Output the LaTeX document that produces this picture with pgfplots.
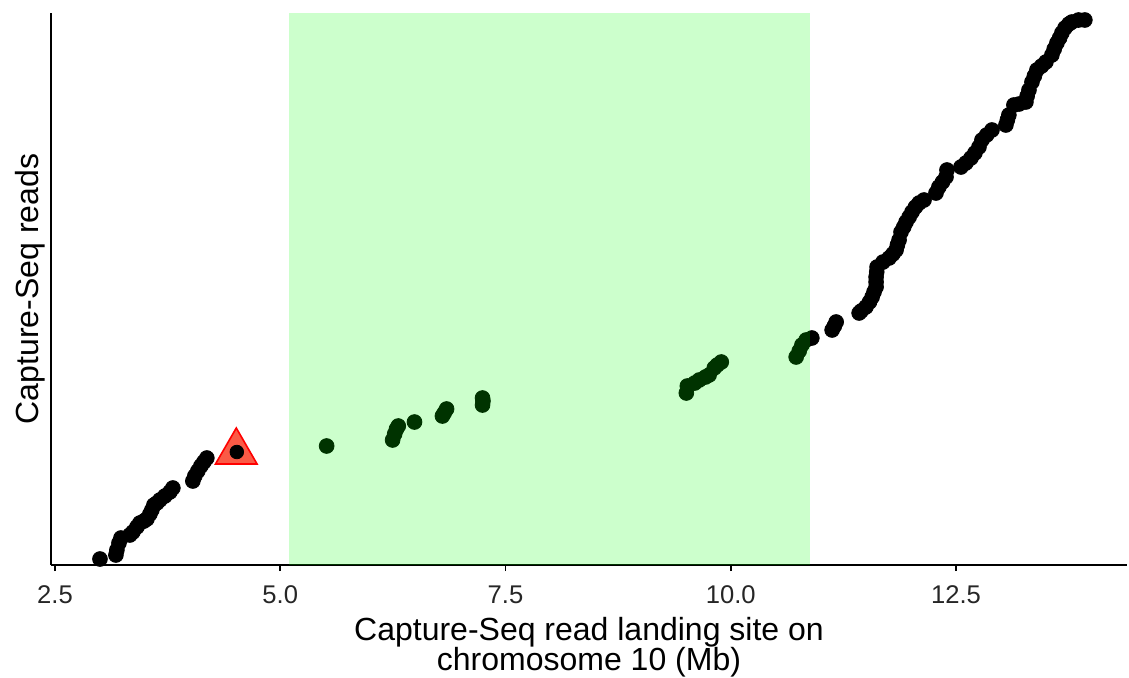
\documentclass[border=0pt]{standalone}
\usepackage{fontspec}
\setmainfont{Liberation Sans}
\usepackage{pgfplots}
\pgfplotsset{compat=1.18}
\definecolor{tri}{RGB}{250,90,70}
\begin{document}
\begin{tikzpicture}
\begin{axis}[
 scale only axis, width=538pt, height=276pt,
 xmin=2.4556, xmax=14.398, ymin=0, ymax=552,
 axis x line*=bottom, axis y line*=left,
 axis line style={line width=1pt, black},
 xtick={2.5,5,7.5,10,12.5}, xticklabels={2.5,5.0,7.5,10.0,12.5},
 ytick=\empty,
 xtick align=outside, major tick length=3pt,
 tick style={line width=0.8pt, black},
 xticklabel style={font=\fontsize{12.8}{14}\selectfont, text=black!85, inner sep=0pt, anchor=north, yshift=-7pt},
 xlabel={Capture-Seq read landing site on\\chromosome 10 (Mb)},
 xlabel style={font=\fontsize{16}{15}\selectfont, align=center, at={(axis description cs:0.5,0)}, anchor=north, inner sep=0pt, yshift=-26pt},
 ylabel={Capture-Seq reads},
 ylabel style={font=\fontsize{16}{18}\selectfont, at={(axis description cs:0,0.5)}, anchor=south, inner sep=2.5pt},
 clip=false, clip marker paths=true,
]
% all reads
\addplot[only marks, mark=*, mark size=3.7pt, mark options={fill=black, draw=none}] table {
x y
2.999 6
3.176 10
3.187 15
3.210 22
3.232 27
3.331 30
3.365 33
3.409 38
3.442 42
3.487 44
3.520 46
3.553 51
3.575 55
3.598 60
3.631 62
3.664 65
3.720 69
3.775 73
3.808 77
4.030 84
4.052 89
4.085 94
4.119 99
4.152 103
4.185 107
5.515 119
6.247 125
6.270 131
6.290 136
6.310 139
6.490 143
6.800 149
6.820 152
6.846 156
7.245 160
7.250 164
7.245 167
9.507 172
9.518 179
9.600 182
9.650 185
9.720 188
9.760 190
9.817 197
9.850 200
9.895 203
10.726 208
10.760 214
10.790 220
10.837 225
10.900 227
11.125 235
11.150 239
11.170 243
11.425 252
11.447 254
11.500 258
11.540 263
11.569 268
11.590 273
11.613 278
11.613 283
11.613 288
11.620 293
11.624 298
11.690 303
11.757 307
11.800 311
11.835 315
11.850 320
11.868 325
11.890 333
11.920 338
11.946 343
11.980 348
12.012 353
12.050 358
12.090 362
12.145 365
12.278 372
12.310 378
12.350 383
12.389 388
12.400 395
12.555 398
12.610 402
12.666 407
12.710 412
12.755 418
12.788 425
12.840 430
12.899 435
13.054 440
13.070 445
13.087 450
13.143 460
13.200 461
13.276 463
13.290 469
13.310 475
13.343 483
13.370 489
13.398 495
13.450 499
13.498 503
13.564 510
13.590 516
13.620 522
13.650 527
13.675 532
13.710 537
13.753 541
13.786 543
13.860 545
13.930 545
};
% highlighted region
\addplot[fill=green, fill opacity=0.2, draw=none] coordinates {(5.094,0) (10.88,0) (10.88,552) (5.094,552)} -- cycle;
% marked read
\addplot[only marks, mark=triangle*, mark size=12pt, mark options={fill=tri, draw=red, line width=0.8pt}] coordinates {(4.512,113)};
\addplot[only marks, mark=*, mark size=3.4pt, mark options={fill=black, draw=none}] coordinates {(4.518,113)};
\end{axis}
\pgfresetboundingbox
\path[use as bounding box] (-25.5pt,-56pt) rectangle (539pt,282.5pt);
\end{tikzpicture}
\end{document}
